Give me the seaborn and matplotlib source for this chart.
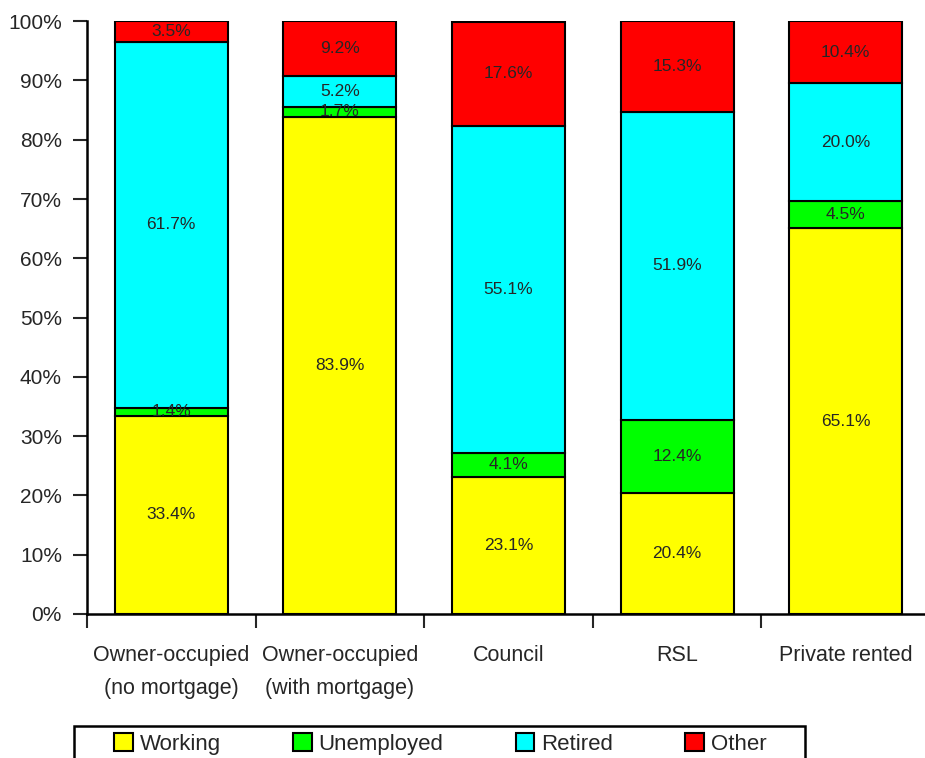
import numpy as np
import pandas as pd
import matplotlib
matplotlib.use("Agg")
import matplotlib.pyplot as plt
import seaborn as sns
from matplotlib.ticker import FixedLocator, PercentFormatter
from matplotlib.patches import Patch, Rectangle

# Data (% of households)
tenures = ["Owner-occupied\n(no mortgage)", "Owner-occupied\n(with mortgage)",
           "Council", "RSL", "Private rented"]
working = [33.4, 83.9, 23.1, 20.4, 65.1]
unemployed = [1.4, 1.7, 4.1, 12.4, 4.5]
retired = [61.7, 5.2, 55.1, 51.9, 20.0]
other = [3.5, 9.2, 17.6, 15.3, 10.4]

series = {"Working": working, "Unemployed": unemployed,
          "Retired": retired, "Other": other}
colors = {"Working": "#ffff00", "Unemployed": "#00ff00",
          "Retired": "#00ffff", "Other": "#ff0000"}

sns.set_style("white")
plt.rcParams["font.family"] = ["Liberation Sans", "DejaVu Sans"]

fig = plt.figure(figsize=(9.25, 7.58), dpi=100)
ax = fig.add_axes([0.094, 0.19, 0.906, 0.782])

bottom = np.zeros(len(tenures))
for name, vals in series.items():
    df = pd.DataFrame({"tenure": tenures, "value": vals})
    n_before = len(ax.containers)
    sns.barplot(data=df, x="tenure", y="value", color=colors[name],
                bottom=bottom, width=0.67, edgecolor="black", linewidth=1.5,
                saturation=1, ax=ax, errorbar=None)
    cont = ax.containers[n_before]
    ax.bar_label(cont, labels=[f"{v:.1f}%" for v in vals], label_type="center",
                 fontsize=12.5)
    bottom = bottom + np.array(vals)

ax.set_ylim(0, 100)
ax.set_xlim(-0.5, 4.47)
ax.yaxis.set_major_locator(FixedLocator(np.arange(0, 101, 10)))
ax.yaxis.set_major_formatter(PercentFormatter(decimals=0))
ax.set_xlabel("")
ax.set_ylabel("")

# category labels without ticks, ticks at boundaries
ax.tick_params(axis="x", which="major", length=0, pad=22, labelsize=15.5)
for lbl in ax.get_xticklabels():
    lbl.set_linespacing(1.75)
ax.xaxis.set_minor_locator(FixedLocator([-0.5, 0.5, 1.5, 2.5, 3.5]))
ax.tick_params(axis="x", which="minor", length=10, width=1.5, direction="out",
               bottom=True)
ax.tick_params(axis="y", length=10, width=1.5, direction="out", left=True,
               labelsize=15, pad=8)

sns.despine(ax=ax, top=True, right=True)
for s in ["left", "bottom"]:
    ax.spines[s].set_linewidth(1.8)
    ax.spines[s].set_color("black")

# legend box (runs off the bottom edge as in the original)
fig.add_artist(Rectangle((74 / 925, -0.02), (805 - 74) / 925, 0.02 + 32 / 758,
                         transform=fig.transFigure, facecolor="white",
                         edgecolor="black", linewidth=1.8))
handles = [Patch(facecolor=colors[n], edgecolor="black", linewidth=1.5, label=n)
           for n in series]
leg = fig.legend(handles=handles, loc="center left",
                 bbox_to_anchor=(114 / 925, 1 - 744 / 758), ncol=4,
                 fontsize=16, frameon=False,
                 handlelength=0.85, handleheight=0.85, handletextpad=0.3,
                 columnspacing=3.25, borderpad=0, borderaxespad=0)

fig.savefig("out.png", dpi=100)
